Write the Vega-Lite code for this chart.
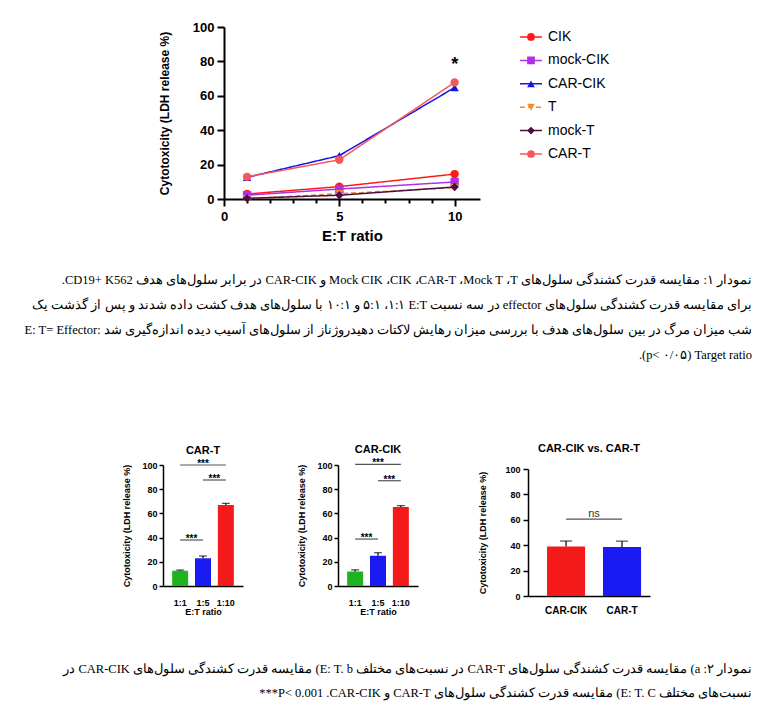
{
  "$schema": "https://vega.github.io/schema/vega-lite/v6.json",
  "padding": 0,
  "background": "white",
  "bounds": "flush",
  "spacing": 0,
  "resolve": {"scale": {"color": "independent", "shape": "independent", "strokeDash": "independent"}},
  "datasets": {
    "lines": [
      {"series": "CIK", "ratio": 1, "value": 2.9},
      {"series": "CIK", "ratio": 5, "value": 7.2},
      {"series": "CIK", "ratio": 10, "value": 14.5},
      {"series": "mock-CIK", "ratio": 1, "value": 2.2},
      {"series": "mock-CIK", "ratio": 5, "value": 5.8},
      {"series": "mock-CIK", "ratio": 10, "value": 9.9},
      {"series": "CAR-CIK", "ratio": 1, "value": 12.6},
      {"series": "CAR-CIK", "ratio": 5, "value": 25.2},
      {"series": "CAR-CIK", "ratio": 10, "value": 64.8},
      {"series": "T", "ratio": 1, "value": 0.1},
      {"series": "T", "ratio": 5, "value": 3.1},
      {"series": "T", "ratio": 10, "value": 6.6},
      {"series": "mock-T", "ratio": 1, "value": 0.4},
      {"series": "mock-T", "ratio": 5, "value": 2.2},
      {"series": "mock-T", "ratio": 10, "value": 7.0},
      {"series": "CAR-T", "ratio": 1, "value": 12.9},
      {"series": "CAR-T", "ratio": 5, "value": 22.8},
      {"series": "CAR-T", "ratio": 10, "value": 67.8}
    ],
    "stars": [{"ratio": 10, "value": 80, "label": "*"}],
    "legend": [
      {"series": "CIK", "order": 0},
      {"series": "mock-CIK", "order": 1},
      {"series": "CAR-CIK", "order": 2},
      {"series": "T", "order": 3},
      {"series": "mock-T", "order": 4},
      {"series": "CAR-T", "order": 5}
    ],
    "bars1": [
      {"ratio": "1:1", "value": 12.6, "upper": 13.2},
      {"ratio": "1:5", "value": 22.9, "upper": 24.8},
      {"ratio": "1:10", "value": 67.0, "upper": 68.3}
    ],
    "sig1": [
      {"from": 0, "to": 2, "mid": 1, "y": 100, "label": "***"},
      {"from": 1, "to": 2, "mid": 1.5, "y": 87.6, "label": "***"},
      {"from": 0, "to": 1, "mid": 0.5, "y": 38, "label": "***"}
    ],
    "bars2": [
      {"ratio": "1:1", "value": 11.9, "upper": 13.4},
      {"ratio": "1:5", "value": 25.0, "upper": 27.5},
      {"ratio": "1:10", "value": 65.2, "upper": 66.4}
    ],
    "sig2": [
      {"from": 0, "to": 2, "mid": 1, "y": 100.5, "label": "***"},
      {"from": 1, "to": 2, "mid": 1.5, "y": 87, "label": "***"},
      {"from": 0, "to": 1, "mid": 0.5, "y": 38.8, "label": "***"}
    ],
    "bars3": [
      {"group": "CAR-CIK", "value": 38.9, "upper": 43.3},
      {"group": "CAR-T", "value": 38.6, "upper": 43.2}
    ],
    "sig3": [{"from": 0, "to": 1, "mid": 0.5, "y": 60.5, "label": "ns"}],
    "cap1": [
      {"line": 0, "text": "\u202bنمودار ۱: مقایسه قدرت کشندگی سلول\u200cهای T،\u200f Mock T،\u200f CAR-T،\u200f CIK،\u200f Mock CIK و CAR-CIK در برابر سلول\u200cهای هدف CD19+ K562.\u202c"},
      {"line": 1, "text": "\u202bبرای مقایسه قدرت کشندگی سلول\u200cهای effector در سه نسبت E:T\u200f ۱:۱،\u200f ۵:۱ و ۱۰:۱ با سلول\u200cهای هدف کشت داده شدند و پس از گذشت یک\u202c"},
      {"line": 2, "text": "\u202bشب میزان مرگ در بین سلول\u200cهای هدف با بررسی میزان رهایش لاکتات دهیدروژناز از سلول\u200cهای آسیب دیده اندازه\u200cگیری شد E: T= Effector:\u200e\u202c"},
      {"line": 3, "text": "\u202bTarget ratio \u200f\u200e(p< ۰/۰۵)\u200e.\u202c"}
    ],
    "cap2": [
      {"line": 0, "text": "\u202bنمودار ۲: a) مقایسه قدرت کشندگی سلول\u200cهای CAR-T در نسبت\u200cهای مختلف E: T. b) مقایسه قدرت کشندگی سلول\u200cهای CAR-CIK در\u202c"},
      {"line": 1, "text": "\u202bنسبت\u200cهای مختلف E: T. C) مقایسه قدرت کشندگی سلول\u200cهای CAR-T و CAR-CIK\u200f. \u200e***P< 0.001\u202c"}
    ]
  },
  "vconcat": [
    {"width": 10, "height": 27, "data": {"values": []}, "mark": "point", "encoding": {}},
    {
      "bounds": "flush",
      "spacing": 0,
      "hconcat": [
        {"width": 224, "height": 10, "data": {"values": []}, "mark": "point", "encoding": {}},
        {
          "width": 256,
          "height": 172,
          "layer": [
            {
              "data": {"name": "lines"},
              "layer": [
                {
                  "mark": {"type": "line", "strokeWidth": 1.5},
                  "encoding": {
                    "x": {"field": "ratio", "type": "quantitative", "scale": {"domain": [0, 11.1], "nice": false, "zero": false},
                      "axis": {"orient": "bottom", "values": [0, 5, 10], "tickSize": 7, "tickWidth": 2, "domainWidth": 2, "labelFontSize": 13, "labelPadding": 4, "labelFlush": false, "title": "E:T ratio", "titleFontSize": 15, "titlePadding": 5}},
                    "y": {"field": "value", "type": "quantitative", "scale": {"domain": [0, 100], "nice": false},
                      "axis": {"values": [0, 20, 40, 60, 80, 100], "tickSize": 7, "tickWidth": 2, "domainWidth": 2, "labelFontSize": 13, "labelPadding": 3, "labelFlush": false, "title": "Cytotoxicity (LDH release %)", "titleFontSize": 12, "titlePadding": 21}},
                    "color": {"field": "series", "type": "nominal", "scale": {"domain": ["CIK", "mock-CIK", "CAR-CIK", "T", "mock-T", "CAR-T"], "range": ["#FF1A1A", "#B32FE6", "#1414E6", "#F28A2E", "#4D0F40", "#F5585A"]}, "legend": null},
                    "strokeDash": {"field": "series", "type": "nominal", "scale": {"domain": ["CIK", "mock-CIK", "CAR-CIK", "T", "mock-T", "CAR-T"], "range": [[1, 0], [1, 0], [1, 0], [5, 3], [1, 0], [1, 0]]}, "legend": null}
                  }
                },
                {
                  "mark": {"type": "point", "filled": true, "size": 70, "opacity": 1},
                  "encoding": {
                    "x": {"field": "ratio", "type": "quantitative", "scale": {"domain": [0, 11.1], "nice": false, "zero": false},
                      "axis": {"orient": "bottom", "values": [0, 5, 10], "tickSize": 7, "tickWidth": 2, "domainWidth": 2, "labelFontSize": 13, "labelPadding": 4, "labelFlush": false, "title": "E:T ratio", "titleFontSize": 15, "titlePadding": 5}},
                    "y": {"field": "value", "type": "quantitative", "scale": {"domain": [0, 100], "nice": false},
                      "axis": {"values": [0, 20, 40, 60, 80, 100], "tickSize": 7, "tickWidth": 2, "domainWidth": 2, "labelFontSize": 13, "labelPadding": 3, "labelFlush": false, "title": "Cytotoxicity (LDH release %)", "titleFontSize": 12, "titlePadding": 21}},
                    "color": {"field": "series", "type": "nominal", "legend": null},
                    "shape": {"field": "series", "type": "nominal", "scale": {"domain": ["CIK", "mock-CIK", "CAR-CIK", "T", "mock-T", "CAR-T"], "range": ["circle", "square", "triangle-up", "triangle-down", "diamond", "circle"]}, "legend": null}
                  }
                },
                {
                  "data": {"name": "stars"},
                  "mark": {"type": "text", "fontSize": 18, "fontWeight": "bold", "baseline": "middle", "font": "Liberation Sans", "dy": 4},
                  "encoding": {
                    "x": {"field": "ratio", "type": "quantitative", "scale": {"domain": [0, 11.1], "nice": false, "zero": false},
                      "axis": {"orient": "bottom", "values": [0, 5, 10], "tickSize": 7, "tickWidth": 2, "domainWidth": 2, "labelFontSize": 13, "labelPadding": 4, "labelFlush": false, "title": "E:T ratio", "titleFontSize": 15, "titlePadding": 5}},
                    "y": {"field": "value", "type": "quantitative", "scale": {"domain": [0, 100], "nice": false},
                      "axis": {"values": [0, 20, 40, 60, 80, 100], "tickSize": 7, "tickWidth": 2, "domainWidth": 2, "labelFontSize": 13, "labelPadding": 3, "labelFlush": false, "title": "Cytotoxicity (LDH release %)", "titleFontSize": 12, "titlePadding": 21}},
                    "text": {"field": "label"}
                  }
                }
              ]
            },
            {
              "data": {"name": "stars"},
              "mark": {"type": "point", "opacity": 0},
              "encoding": {
                "x": {"field": "ratio", "type": "quantitative", "scale": {"domain": [0, 11.1], "nice": false, "zero": false},
                  "axis": {"orient": "bottom", "values": [1, 2, 3, 4, 6, 7, 8, 9], "labels": false, "tickSize": 4, "tickWidth": 2, "domain": false, "title": null}}
              }
            }
          ],
          "resolve": {"axis": {"x": "independent"}}
        },
        {"width": 20, "height": 10, "data": {"values": []}, "mark": "point", "encoding": {}},
        {
          "width": 120,
          "height": 172,
          "data": {"name": "legend"},
          "layer": [
            {
              "mark": {"type": "rule", "strokeWidth": 1.5},
              "encoding": {
                "x": {"datum": 20, "type": "quantitative", "scale": {"domain": [0, 120], "nice": false, "zero": false}, "axis": null},
                "x2": {"datum": 42},
                "y": {"field": "order", "type": "quantitative", "scale": {"domain": [-0.427, 6.923], "reverse": true, "nice": false, "zero": false}, "axis": null},
                "color": {"field": "series", "type": "nominal", "scale": {"domain": ["CIK", "mock-CIK", "CAR-CIK", "T", "mock-T", "CAR-T"], "range": ["#FF1A1A", "#B32FE6", "#1414E6", "#F28A2E", "#4D0F40", "#F5585A"]}, "legend": null},
                "strokeDash": {"field": "series", "type": "nominal", "scale": {"domain": ["CIK", "mock-CIK", "CAR-CIK", "T", "mock-T", "CAR-T"], "range": [[1, 0], [1, 0], [1, 0], [4, 3], [1, 0], [1, 0]]}, "legend": null}
              }
            },
            {
              "mark": {"type": "point", "filled": true, "size": 60, "opacity": 1},
              "encoding": {
                "x": {"datum": 31, "type": "quantitative", "axis": null},
                "y": {"field": "order", "type": "quantitative", "axis": null},
                "color": {"field": "series", "type": "nominal", "legend": null},
                "shape": {"field": "series", "type": "nominal", "scale": {"domain": ["CIK", "mock-CIK", "CAR-CIK", "T", "mock-T", "CAR-T"], "range": ["circle", "square", "triangle-up", "triangle-down", "diamond", "circle"]}, "legend": null}
              }
            },
            {
              "mark": {"type": "text", "fontSize": 14, "baseline": "middle", "align": "left", "font": "Liberation Sans", "color": "black"},
              "encoding": {
                "x": {"datum": 48, "type": "quantitative", "axis": null},
                "y": {"field": "order", "type": "quantitative", "axis": null},
                "text": {"field": "series"}
              }
            }
          ]
        }
      ]
    },
    {"width": 10, "height": 172, "data": {"values": []}, "mark": "point", "encoding": {}},
    {
      "width": 752,
      "height": 266,
      "data": {"name": "cap1"},
      "mark": {"type": "text", "align": "right", "baseline": "middle", "fontSize": 12.5, "font": "Liberation Serif", "color": "black"},
      "encoding": {
        "x": {"datum": 1, "type": "quantitative", "scale": {"domain": [0, 1], "nice": false}, "axis": null},
        "y": {"field": "line", "type": "quantitative", "scale": {"domain": [-3.227, 7.371], "reverse": true, "nice": false, "zero": false}, "axis": null},
        "text": {"field": "text"}
      }
    },
    {
      "bounds": "flush",
      "spacing": 0,
      "resolve": {"scale": {"color": "independent"}},
      "hconcat": [
        {"width": 163, "height": 10, "data": {"values": []}, "mark": "point", "encoding": {}},
        {
          "width": 80,
          "height": 121,
          "title": {"text": "CAR-T", "fontSize": 11, "frame": "group", "offset": 3},
          "layer": [
            {
              "data": {"name": "bars1"},
              "layer": [
                {
                  "mark": {"type": "bar"},
                  "encoding": {
                    "x": {"field": "ratio", "type": "nominal", "sort": null, "scale": {"paddingInner": 0.3, "paddingOuter": 0.4},
                      "axis": {"labelAngle": 0, "labelFontSize": 9, "ticks": false, "labelPadding": 12, "domainWidth": 1.5, "title": "E:T ratio", "titleFontSize": 9, "titlePadding": 0}},
                    "y": {"field": "value", "type": "quantitative", "scale": {"domain": [0, 100], "nice": false},
                      "axis": {"values": [0, 20, 40, 60, 80, 100], "labelFontSize": 9, "tickSize": 4, "tickWidth": 1.5, "domainWidth": 1.5, "labelPadding": 2, "labelFlush": false, "title": "Cytotoxicity (LDH release %)", "titleFontSize": 9, "titlePadding": 10}},
                    "color": {"field": "ratio", "type": "nominal", "scale": {"domain": ["1:1", "1:5", "1:10"], "range": ["#1FB41F", "#1A1AF2", "#F51A1A"]}, "legend": null}
                  }
                },
                {
                  "mark": {"type": "rule", "color": "black", "strokeWidth": 1.2},
                  "encoding": {
                    "x": {"field": "ratio", "type": "nominal", "sort": null,
                      "axis": {"labelAngle": 0, "labelFontSize": 9, "ticks": false, "labelPadding": 12, "domainWidth": 1.5, "title": "E:T ratio", "titleFontSize": 9, "titlePadding": 0}},
                    "y": {"field": "value", "type": "quantitative",
                      "axis": {"values": [0, 20, 40, 60, 80, 100], "labelFontSize": 9, "tickSize": 4, "tickWidth": 1.5, "domainWidth": 1.5, "labelPadding": 2, "labelFlush": false, "title": "Cytotoxicity (LDH release %)", "titleFontSize": 9, "titlePadding": 10}},
                    "y2": {"field": "upper"}
                  }
                },
                {
                  "mark": {"type": "tick", "color": "black", "size": 8, "thickness": 1.2},
                  "encoding": {
                    "x": {"field": "ratio", "type": "nominal", "sort": null,
                      "axis": {"labelAngle": 0, "labelFontSize": 9, "ticks": false, "labelPadding": 12, "domainWidth": 1.5, "title": "E:T ratio", "titleFontSize": 9, "titlePadding": 0}},
                    "y": {"field": "upper", "type": "quantitative",
                      "axis": {"values": [0, 20, 40, 60, 80, 100], "labelFontSize": 9, "tickSize": 4, "tickWidth": 1.5, "domainWidth": 1.5, "labelPadding": 2, "labelFlush": false, "title": "Cytotoxicity (LDH release %)", "titleFontSize": 9, "titlePadding": 10}}
                  }
                }
              ]
            },
            {
              "data": {"name": "sig1"},
              "layer": [
                {
                  "mark": {"type": "rule", "color": "#555555", "strokeWidth": 1.2},
                  "encoding": {
                    "x": {"field": "from", "type": "quantitative", "scale": {"domain": [-0.75, 2.75], "nice": false, "zero": false}, "axis": null},
                    "x2": {"field": "to"},
                    "y": {"field": "y", "type": "quantitative", "scale": {"domain": [0, 100], "nice": false},
                      "axis": {"values": [0, 20, 40, 60, 80, 100], "labelFontSize": 9, "tickSize": 4, "tickWidth": 1.5, "domainWidth": 1.5, "labelPadding": 2, "labelFlush": false, "title": "Cytotoxicity (LDH release %)", "titleFontSize": 9, "titlePadding": 10}}
                  }
                },
                {
                  "mark": {"type": "text", "fontSize": 10, "fontWeight": "bold", "font": "Liberation Sans", "dy": -1, "color": "black"},
                  "encoding": {
                    "x": {"field": "mid", "type": "quantitative", "axis": null},
                    "y": {"field": "y", "type": "quantitative",
                      "axis": {"values": [0, 20, 40, 60, 80, 100], "labelFontSize": 9, "tickSize": 4, "tickWidth": 1.5, "domainWidth": 1.5, "labelPadding": 2, "labelFlush": false, "title": "Cytotoxicity (LDH release %)", "titleFontSize": 9, "titlePadding": 10}},
                    "text": {"field": "label"}
                  }
                }
              ]
            }
          ],
          "resolve": {"scale": {"x": "independent"}}
        },
        {"width": 95, "height": 10, "data": {"values": []}, "mark": "point", "encoding": {}},
        {
          "width": 80,
          "height": 121,
          "title": {"text": "CAR-CIK", "fontSize": 11, "frame": "group", "offset": 3},
          "layer": [
            {
              "data": {"name": "bars2"},
              "layer": [
                {
                  "mark": {"type": "bar"},
                  "encoding": {
                    "x": {"field": "ratio", "type": "nominal", "sort": null, "scale": {"paddingInner": 0.3, "paddingOuter": 0.4},
                      "axis": {"labelAngle": 0, "labelFontSize": 9, "ticks": false, "labelPadding": 12, "domainWidth": 1.5, "title": "E:T ratio", "titleFontSize": 9, "titlePadding": 0}},
                    "y": {"field": "value", "type": "quantitative", "scale": {"domain": [0, 100], "nice": false},
                      "axis": {"values": [0, 20, 40, 60, 80, 100], "labelFontSize": 9, "tickSize": 4, "tickWidth": 1.5, "domainWidth": 1.5, "labelPadding": 2, "labelFlush": false, "title": "Cytotoxicity (LDH release %)", "titleFontSize": 9, "titlePadding": 10}},
                    "color": {"field": "ratio", "type": "nominal", "scale": {"domain": ["1:1", "1:5", "1:10"], "range": ["#1FB41F", "#1A1AF2", "#F51A1A"]}, "legend": null}
                  }
                },
                {
                  "mark": {"type": "rule", "color": "black", "strokeWidth": 1.2},
                  "encoding": {
                    "x": {"field": "ratio", "type": "nominal", "sort": null,
                      "axis": {"labelAngle": 0, "labelFontSize": 9, "ticks": false, "labelPadding": 12, "domainWidth": 1.5, "title": "E:T ratio", "titleFontSize": 9, "titlePadding": 0}},
                    "y": {"field": "value", "type": "quantitative",
                      "axis": {"values": [0, 20, 40, 60, 80, 100], "labelFontSize": 9, "tickSize": 4, "tickWidth": 1.5, "domainWidth": 1.5, "labelPadding": 2, "labelFlush": false, "title": "Cytotoxicity (LDH release %)", "titleFontSize": 9, "titlePadding": 10}},
                    "y2": {"field": "upper"}
                  }
                },
                {
                  "mark": {"type": "tick", "color": "black", "size": 8, "thickness": 1.2},
                  "encoding": {
                    "x": {"field": "ratio", "type": "nominal", "sort": null,
                      "axis": {"labelAngle": 0, "labelFontSize": 9, "ticks": false, "labelPadding": 12, "domainWidth": 1.5, "title": "E:T ratio", "titleFontSize": 9, "titlePadding": 0}},
                    "y": {"field": "upper", "type": "quantitative",
                      "axis": {"values": [0, 20, 40, 60, 80, 100], "labelFontSize": 9, "tickSize": 4, "tickWidth": 1.5, "domainWidth": 1.5, "labelPadding": 2, "labelFlush": false, "title": "Cytotoxicity (LDH release %)", "titleFontSize": 9, "titlePadding": 10}}
                  }
                }
              ]
            },
            {
              "data": {"name": "sig2"},
              "layer": [
                {
                  "mark": {"type": "rule", "color": "#555555", "strokeWidth": 1.2},
                  "encoding": {
                    "x": {"field": "from", "type": "quantitative", "scale": {"domain": [-0.75, 2.75], "nice": false, "zero": false}, "axis": null},
                    "x2": {"field": "to"},
                    "y": {"field": "y", "type": "quantitative", "scale": {"domain": [0, 100], "nice": false},
                      "axis": {"values": [0, 20, 40, 60, 80, 100], "labelFontSize": 9, "tickSize": 4, "tickWidth": 1.5, "domainWidth": 1.5, "labelPadding": 2, "labelFlush": false, "title": "Cytotoxicity (LDH release %)", "titleFontSize": 9, "titlePadding": 10}}
                  }
                },
                {
                  "mark": {"type": "text", "fontSize": 10, "fontWeight": "bold", "font": "Liberation Sans", "dy": -1, "color": "black"},
                  "encoding": {
                    "x": {"field": "mid", "type": "quantitative", "axis": null},
                    "y": {"field": "y", "type": "quantitative",
                      "axis": {"values": [0, 20, 40, 60, 80, 100], "labelFontSize": 9, "tickSize": 4, "tickWidth": 1.5, "domainWidth": 1.5, "labelPadding": 2, "labelFlush": false, "title": "Cytotoxicity (LDH release %)", "titleFontSize": 9, "titlePadding": 10}},
                    "text": {"field": "label"}
                  }
                }
              ]
            }
          ],
          "resolve": {"scale": {"x": "independent"}}
        },
        {"width": 110, "height": 10, "data": {"values": []}, "mark": "point", "encoding": {}},
        {
          "width": 122,
          "height": 131,
          "title": {"text": "CAR-CIK vs. CAR-T", "fontSize": 11, "frame": "group", "offset": 11},
          "layer": [
            {
              "data": {"name": "bars3"},
              "layer": [
                {
                  "mark": {"type": "bar"},
                  "encoding": {
                    "x": {"field": "group", "type": "nominal", "sort": null, "scale": {"paddingInner": 0.32, "paddingOuter": 0.25, "align": 0.68},
                      "axis": {"labelAngle": 0, "labelFontSize": 10, "ticks": false, "labelPadding": 9, "domainWidth": 1.5, "title": null}},
                    "y": {"field": "value", "type": "quantitative", "scale": {"domain": [0, 100], "nice": false, "range": [131, 4]},
                      "axis": {"values": [0, 20, 40, 60, 80, 100], "labelFontSize": 9, "tickSize": 5, "tickWidth": 1.5, "domainWidth": 1.5, "labelPadding": 3, "labelFlush": false, "title": "Cytotoxicity (LDH release %)", "titleFontSize": 9, "titlePadding": 17}},
                    "color": {"field": "group", "type": "nominal", "scale": {"domain": ["CAR-CIK", "CAR-T"], "range": ["#F51A1A", "#1A1AF2"]}, "legend": null}
                  }
                },
                {
                  "mark": {"type": "rule", "color": "black", "strokeWidth": 1.2},
                  "encoding": {
                    "x": {"field": "group", "type": "nominal", "sort": null,
                      "axis": {"labelAngle": 0, "labelFontSize": 10, "ticks": false, "labelPadding": 9, "domainWidth": 1.5, "title": null}},
                    "y": {"field": "value", "type": "quantitative",
                      "axis": {"values": [0, 20, 40, 60, 80, 100], "labelFontSize": 9, "tickSize": 5, "tickWidth": 1.5, "domainWidth": 1.5, "labelPadding": 3, "labelFlush": false, "title": "Cytotoxicity (LDH release %)", "titleFontSize": 9, "titlePadding": 17}},
                    "y2": {"field": "upper"}
                  }
                },
                {
                  "mark": {"type": "tick", "color": "black", "size": 12, "thickness": 1.2},
                  "encoding": {
                    "x": {"field": "group", "type": "nominal", "sort": null,
                      "axis": {"labelAngle": 0, "labelFontSize": 10, "ticks": false, "labelPadding": 9, "domainWidth": 1.5, "title": null}},
                    "y": {"field": "upper", "type": "quantitative",
                      "axis": {"values": [0, 20, 40, 60, 80, 100], "labelFontSize": 9, "tickSize": 5, "tickWidth": 1.5, "domainWidth": 1.5, "labelPadding": 3, "labelFlush": false, "title": "Cytotoxicity (LDH release %)", "titleFontSize": 9, "titlePadding": 17}}
                  }
                }
              ]
            },
            {
              "data": {"name": "sig3"},
              "layer": [
                {
                  "mark": {"type": "rule", "color": "#555555", "strokeWidth": 1.2},
                  "encoding": {
                    "x": {"field": "from", "type": "quantitative", "scale": {"domain": [-0.68, 1.5], "nice": false, "zero": false}, "axis": null},
                    "x2": {"field": "to"},
                    "y": {"field": "y", "type": "quantitative", "scale": {"domain": [0, 100], "nice": false, "range": [131, 4]},
                      "axis": {"values": [0, 20, 40, 60, 80, 100], "labelFontSize": 9, "tickSize": 5, "tickWidth": 1.5, "domainWidth": 1.5, "labelPadding": 3, "labelFlush": false, "title": "Cytotoxicity (LDH release %)", "titleFontSize": 9, "titlePadding": 17}}
                  }
                },
                {
                  "mark": {"type": "text", "fontSize": 11, "font": "Liberation Sans", "dy": -5, "color": "#333333"},
                  "encoding": {
                    "x": {"field": "mid", "type": "quantitative", "axis": null},
                    "y": {"field": "y", "type": "quantitative",
                      "axis": {"values": [0, 20, 40, 60, 80, 100], "labelFontSize": 9, "tickSize": 5, "tickWidth": 1.5, "domainWidth": 1.5, "labelPadding": 3, "labelFlush": false, "title": "Cytotoxicity (LDH release %)", "titleFontSize": 9, "titlePadding": 17}},
                    "text": {"field": "label"}
                  }
                }
              ]
            }
          ],
          "resolve": {"scale": {"x": "independent"}}
        }
      ]
    },
    {"width": 10, "height": 131, "data": {"values": []}, "mark": "point", "encoding": {}},
    {
      "width": 752,
      "height": 125,
      "data": {"name": "cap2"},
      "mark": {"type": "text", "align": "right", "baseline": "middle", "fontSize": 12.5, "font": "Liberation Serif", "color": "black"},
      "encoding": {
        "x": {"datum": 1, "type": "quantitative", "scale": {"domain": [0, 1], "nice": false}, "axis": null},
        "y": {"field": "line", "type": "quantitative", "scale": {"domain": [-3.042, 2.167], "reverse": true, "nice": false, "zero": false}, "axis": null},
        "text": {"field": "text"}
      }
    }
  ],
  "config": {
    "view": {"stroke": null},
    "axis": {"labelFont": "Liberation Sans", "titleFont": "Liberation Sans", "domainColor": "black", "tickColor": "black", "labelColor": "black", "titleColor": "black", "grid": false, "labelFontWeight": "bold", "titleFontWeight": "bold", "labelOverlap": false},
    "title": {"font": "Liberation Sans", "fontWeight": "bold", "color": "black"}
  }
}
